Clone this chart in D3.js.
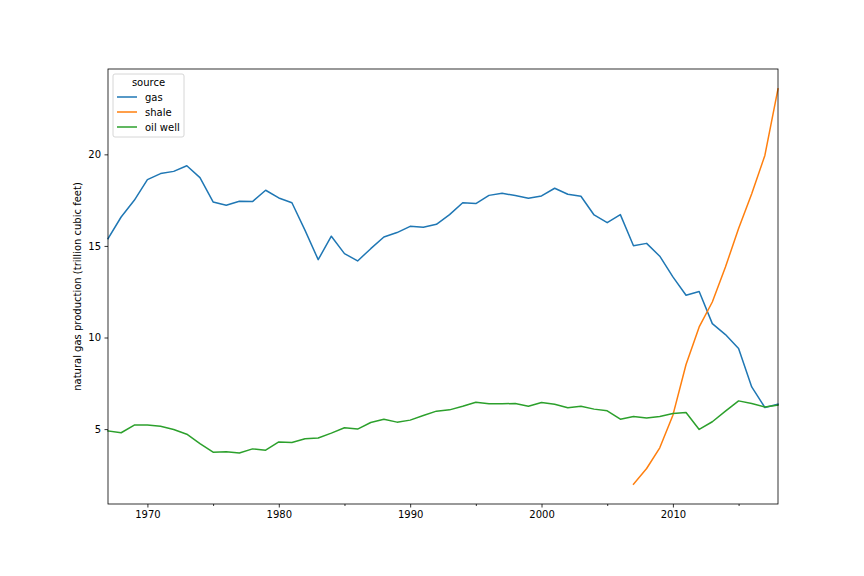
<!DOCTYPE html>
<html>
<head>
<meta charset="utf-8">
<script src="https://cdn.jsdelivr.net/npm/d3@7"></script>
<style>
  body { margin: 0; background: #fff; }
  svg { display: block; font-family: "DejaVu Sans", sans-serif; }
</style>
</head>
<body>
<svg id="chart" width="864" height="576"></svg>
<script>
const years = d3.range(1967, 2019);

const gas = [15.40, 16.58, 17.49, 18.62, 18.95, 19.07, 19.38, 18.73, 17.40, 17.22,
  17.44, 17.42, 18.04, 17.62, 17.36, 15.85, 14.25, 15.53, 14.58, 14.18,
  14.85, 15.49, 15.73, 16.07, 16.02, 16.18, 16.71, 17.36, 17.31, 17.76,
  17.87, 17.75, 17.60, 17.73, 18.15, 17.82, 17.71, 16.69, 16.27, 16.71,
  15.01, 15.14, 14.44, 13.31, 12.31, 12.51, 10.76, 10.16, 9.40, 7.30,
  6.18, 6.36];

const shaleYears = d3.range(2007, 2019);
const shale = [1.99, 2.85, 3.98, 5.76, 8.53, 10.58, 11.94, 13.85, 15.95, 17.85, 19.94, 23.58];

const oilWell = [4.90, 4.80, 5.22, 5.22, 5.16, 4.98, 4.72, 4.21, 3.74, 3.76,
  3.69, 3.92, 3.85, 4.30, 4.27, 4.47, 4.51, 4.78, 5.07, 5.00,
  5.36, 5.54, 5.38, 5.49, 5.74, 5.98, 6.05, 6.25, 6.47, 6.38,
  6.38, 6.40, 6.25, 6.45, 6.36, 6.16, 6.25, 6.09, 6.00, 5.54,
  5.69, 5.61, 5.69, 5.85, 5.91, 4.98, 5.40, 5.98, 6.54, 6.40,
  6.21, 6.31];

const seriesNames = ["gas", "shale", "oil well"];
const colors = ["#1f77b4", "#ff7f0e", "#2ca02c"];
const yTicks = [5, 10, 15, 20];
const xMajorTicks = [1970, 1980, 1990, 2000, 2010];
const xMinorTicks = [1975, 1985, 1995, 2005, 2015];
const yLabel = "natural gas production (trillion cubic feet)";
const legendTitle = "source";

const series = [
  { name: seriesNames[0], color: colors[0], pts: years.map((y, i) => [y, gas[i]]) },
  { name: seriesNames[1], color: colors[1], pts: shaleYears.map((y, i) => [y, shale[i]]) },
  { name: seriesNames[2], color: colors[2], pts: years.map((y, i) => [y, oilWell[i]]) }
];

const margin = { left: 108, right: 864 - 778, top: 69, bottom: 576 - 504 };
const W = 864, H = 576;
const svg = d3.select("#chart");

const allVals = gas.concat(shale, oilWell);
const vmin = d3.min(allVals), vmax = d3.max(allVals);
const pad = (vmax - vmin) * 0.05;

const x = d3.scaleLinear().domain([1967, 2018]).range([margin.left, W - margin.right]);
const y = d3.scaleLinear().domain([vmin - pad, vmax + pad]).range([H - margin.bottom, margin.top]);

// lines
const line = d3.line().x(d => x(d[0])).y(d => y(d[1]));
const plot = svg.append("g");
series.forEach(s => {
  plot.append("path")
    .attr("d", line(s.pts))
    .attr("fill", "none")
    .attr("stroke", s.color)
    .attr("stroke-width", 1.5)
    .attr("stroke-linejoin", "round")
    .attr("stroke-linecap", "square");
});

// axes
const xAxis = svg.append("g")
  .attr("transform", `translate(0,${H - margin.bottom})`)
  .call(d3.axisBottom(x).tickValues(xMajorTicks).tickFormat(d3.format("d")).tickSize(3.5).tickPadding(3.5));
const xMinor = svg.append("g")
  .attr("transform", `translate(0,${H - margin.bottom})`)
  .call(d3.axisBottom(x).tickValues(xMinorTicks).tickFormat("").tickSize(2));
const yAxis = svg.append("g")
  .attr("transform", `translate(${margin.left},0)`)
  .call(d3.axisLeft(y).tickValues(yTicks).tickSize(3.5).tickPadding(3.5));

[xAxis, xMinor, yAxis].forEach(g => {
  g.select(".domain").remove();
  g.selectAll("line").attr("stroke", "#000").attr("stroke-width", 0.8);
  g.selectAll("text").attr("font-size", 10).attr("fill", "#000").attr("font-family", "DejaVu Sans, sans-serif");
});

// frame
svg.append("rect")
  .attr("x", margin.left).attr("y", margin.top)
  .attr("width", W - margin.left - margin.right)
  .attr("height", H - margin.top - margin.bottom)
  .attr("fill", "none").attr("stroke", "#000").attr("stroke-width", 0.8);

// y label
svg.append("text")
  .attr("transform", `translate(81,${(margin.top + H - margin.bottom) / 2}) rotate(-90)`)
  .attr("text-anchor", "middle")
  .attr("font-size", 10)
  .text(yLabel);

// legend
const lg = svg.append("g").attr("transform", `translate(${margin.left + 5},${margin.top + 5})`);
lg.append("rect")
  .attr("x", 0).attr("y", 0).attr("width", 71).attr("height", 63)
  .attr("rx", 2).attr("fill", "#fff").attr("fill-opacity", 0.8)
  .attr("stroke", "#ccc").attr("stroke-width", 0.8);
lg.append("text").attr("x", 35.5).attr("y", 12).attr("text-anchor", "middle")
  .attr("font-size", 10).text(legendTitle);
series.forEach((s, i) => {
  const yy = 23 + i * 15;
  lg.append("line").attr("x1", 4).attr("x2", 24).attr("y1", yy).attr("y2", yy)
    .attr("stroke", s.color).attr("stroke-width", 1.5);
  lg.append("text").attr("x", 32).attr("y", yy + 3.5).attr("font-size", 10).text(s.name);
});
</script>
</body>
</html>
